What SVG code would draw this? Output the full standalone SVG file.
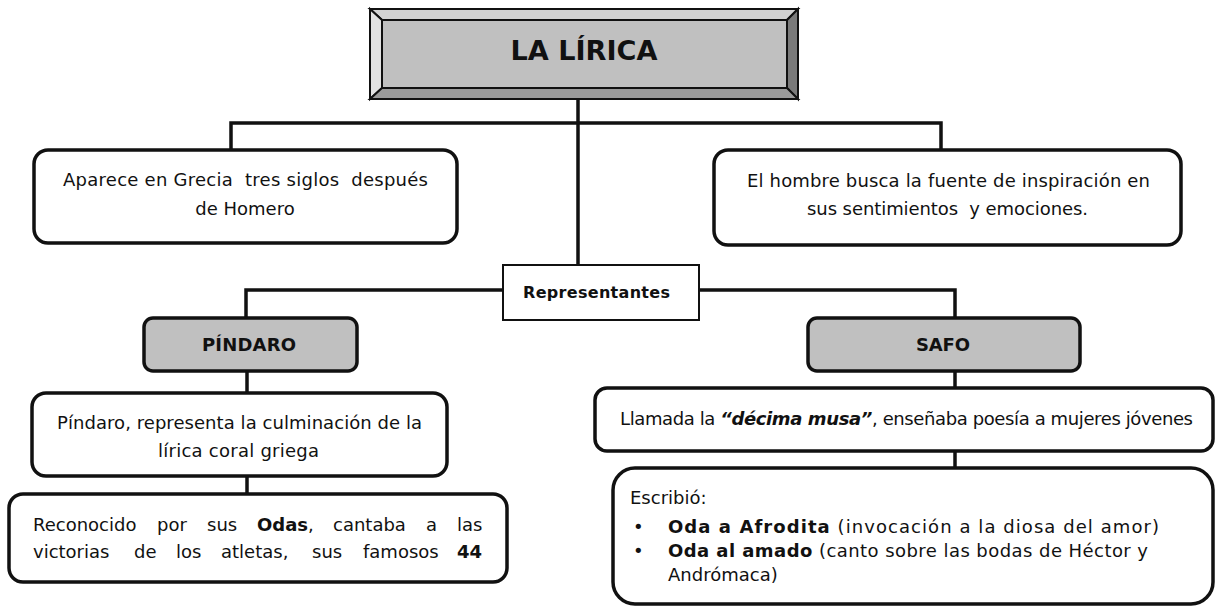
<svg xmlns="http://www.w3.org/2000/svg" width="1215" height="607" viewBox="0 0 1215 607">
<style>
  text { font-family: "DejaVu Sans", "Liberation Sans", sans-serif; fill: #111; white-space: pre; }
  .t { font-size: 18px; }
  .b { font-weight: bold; }
  .c { text-anchor: middle; }
  .box { fill: #fff; stroke: #111; stroke-width: 3.5; }
  .gray { fill: #c0c0c0; stroke: #111; stroke-width: 3.5; }
  .con { stroke: #111; stroke-width: 3.5; fill: none; }
  .bev { stroke: #111; stroke-width: 2; stroke-linejoin: miter; }
</style>
<rect width="1215" height="607" fill="#fff"/>
<g id="connectors">
  <line class="con" x1="578" y1="99" x2="578" y2="265"/>
  <polyline class="con" points="231,150 231,123 941,123 941,150"/>
  <polyline class="con" points="246,318 246,290 955,290 955,318"/>
  <line class="con" x1="247" y1="371" x2="247" y2="393"/>
  <line class="con" x1="247" y1="476" x2="247" y2="494"/>
  <line class="con" x1="955" y1="371" x2="955" y2="388"/>
  <line class="con" x1="955" y1="451" x2="955" y2="468"/>
</g>
<g id="title">
  <polygon class="bev" points="370,9 798,9 787,20 382,20" fill="#d2d2d2"/>
  <polygon class="bev" points="370,9 382,20 382,88 370,99" fill="#e2e2e2"/>
  <polygon class="bev" points="798,9 798,99 787,88 787,20" fill="#7a7a7a"/>
  <polygon class="bev" points="370,99 382,88 787,88 798,99" fill="#9a9a9a"/>
  <rect class="bev" x="382" y="20" width="405" height="68" fill="#c0c0c0"/>
  <text class="b c" x="584" y="60" font-size="27" textLength="147" lengthAdjust="spacingAndGlyphs">LA LÍRICA</text>
</g>
<g id="origen">
  <rect class="box" x="34" y="150" width="423" height="93" rx="14"/>
  <text class="t c" x="245.5" y="186" textLength="365">Aparece en Grecia  tres siglos  después</text>
  <text class="t c" x="245" y="215">de Homero</text>
</g>
<g id="inspiracion">
  <rect class="box" x="714" y="150" width="467" height="95" rx="14"/>
  <text class="t c" x="948.5" y="187" textLength="403">El hombre busca la fuente de inspiración en</text>
  <text class="t c" x="947.5" y="215" textLength="281">sus sentimientos  y emociones.</text>
</g>
<g id="representantes">
  <rect x="503" y="265" width="196" height="55" fill="#fff" stroke="#111" stroke-width="2"/>
  <text class="b c" x="596.5" y="298" font-size="16" textLength="147">Representantes</text>
</g>
<g id="pindaro">
  <rect class="gray" x="144" y="318" width="213" height="53" rx="9"/>
  <text class="b c" x="249" y="351" font-size="18" textLength="94">PÍNDARO</text>
</g>
<g id="safo">
  <rect class="gray" x="808" y="318" width="272" height="53" rx="9"/>
  <text class="b c" x="943" y="351" font-size="18" textLength="54">SAFO</text>
</g>
<g id="pindaro-culminacion">
  <rect class="box" x="32" y="393" width="415" height="83" rx="14"/>
  <text class="t c" x="239.5" y="429" textLength="365">Píndaro, representa la culminación de la</text>
  <text class="t c" x="238.5" y="457" textLength="161">lírica coral griega</text>
</g>
<g id="pindaro-odas">
  <rect class="box" x="9" y="494" width="498" height="88" rx="14"/>
  <text class="t" y="531"><tspan x="33">Reconocido</tspan><tspan x="157">por</tspan><tspan x="207">sus</tspan><tspan x="257" class="b">Odas</tspan>,<tspan x="333">cantaba</tspan><tspan x="426">a</tspan><tspan x="457">las</tspan></text>
  <text class="t" y="558"><tspan x="33">victorias</tspan><tspan x="134">de</tspan><tspan x="176">los</tspan><tspan x="221">atletas,</tspan><tspan x="312">sus</tspan><tspan x="363">famosos</tspan><tspan x="457" class="b">44</tspan></text>
</g>
<g id="safo-musa">
  <rect class="box" x="595" y="388" width="618" height="63" rx="12"/>
  <text class="t" x="620" y="425" textLength="573">Llamada la <tspan class="b" font-style="italic">“décima musa”</tspan>, enseñaba poesía a mujeres jóvenes</text>
</g>
<g id="safo-obras">
  <rect class="box" x="613" y="468" width="600" height="136" rx="22"/>
  <text class="t" x="630" y="504">Escribió:</text>
  <text class="t" x="633" y="533">•</text>
  <text class="t" x="668" y="533" textLength="491"><tspan class="b">Oda a Afrodita</tspan> (invocación a la diosa del amor)</text>
  <text class="t" x="633" y="557">•</text>
  <text class="t" x="668" y="557" textLength="480"><tspan class="b">Oda al amado</tspan> (canto sobre las bodas de Héctor y</text>
  <text class="t" x="668" y="581">Andrómaca)</text>
</g>
</svg>
